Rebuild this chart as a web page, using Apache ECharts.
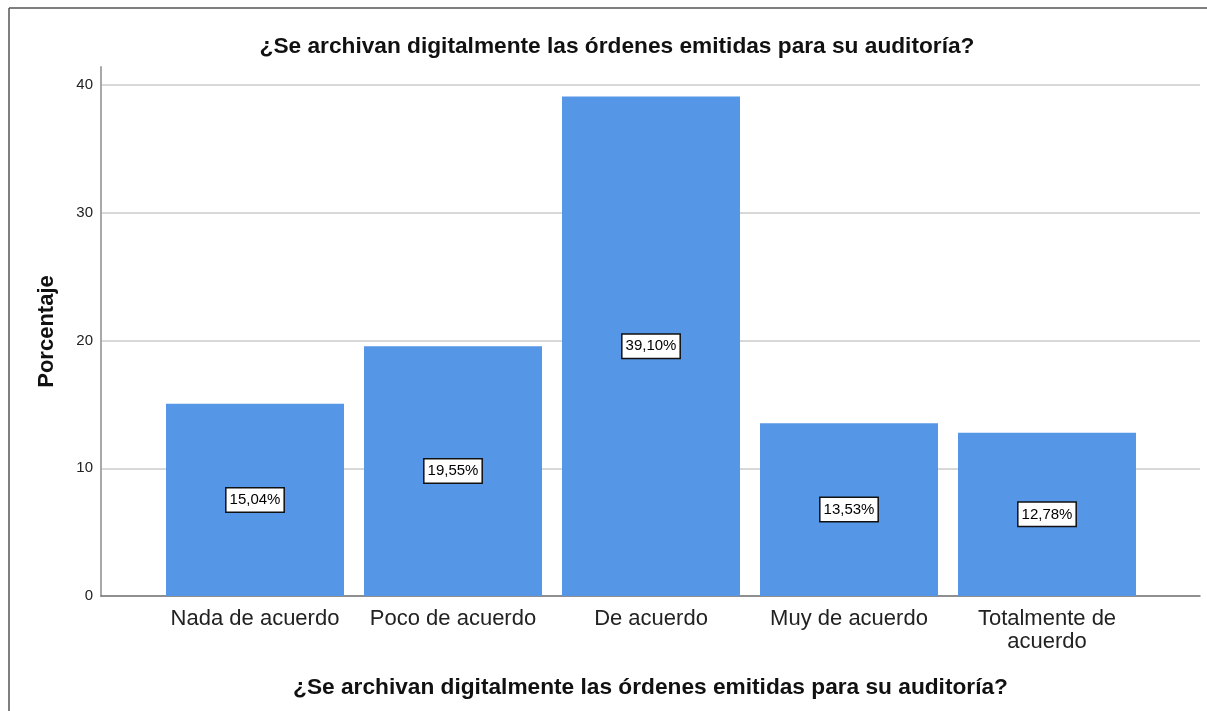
<!DOCTYPE html>
<html>
<head>
<meta charset="utf-8">
<script src="https://cdn.jsdelivr.net/npm/echarts@6/dist/echarts.min.js"></script>
<style>
  html, body { margin: 0; padding: 0; background: #fff; }
  #chart { width: 1207px; height: 711px; }
</style>
</head>
<body>
<div id="chart"></div>
<script>
// datos del gráfico
var categorias = ["Nada de acuerdo", "Poco de acuerdo", "De acuerdo", "Muy de acuerdo", "Totalmente de\nacuerdo"];
var porcentajes = [15.04, 19.55, 39.10, 13.53, 12.78];
var titulo = "¿Se archivan digitalmente las órdenes emitidas para su auditoría?";
var yMax = 40;
var yPaso = 10;

var fuente = "Liberation Sans, Arial, sans-serif";

var chart = echarts.init(document.getElementById("chart"), null, { renderer: "canvas" });

option = {
  backgroundColor: "#fff",
  animation: false,
  title: {
    text: titulo,
    left: 612,
    top: 30,
    textAlign: "center",
    textStyle: { fontFamily: fuente, fontSize: 22.7, fontWeight: "bold", color: "#111" }
  },
  graphic: [
    // marco exterior
    { type: "line", shape: { x1: 9, y1: 8, x2: 1207, y2: 8 }, style: { stroke: "#555", lineWidth: 1.5 } },
    { type: "line", shape: { x1: 9, y1: 8, x2: 9, y2: 711 }, style: { stroke: "#555", lineWidth: 1.5 } }
  ],
  grid: [
    // rejilla y eje Y con etiquetas
    { left: 101, right: 7, top: 85, bottom: 115 },
    // línea del eje Y (más alta)
    { left: 101, width: 1, top: 67, bottom: 115 },
    // barras
    { left: 156, width: 990, top: 85, bottom: 115 }
  ],
  xAxis: [
    {
      gridIndex: 0,
      type: "value",
      min: 0,
      max: 1,
      name: titulo,
      nameLocation: "middle",
      nameGap: 80,
      nameTextStyle: { fontFamily: fuente, fontSize: 22.7, fontWeight: "bold", color: "#111" },
      axisLine: { show: true, onZero: false, lineStyle: { color: "#777", width: 1.5 } },
      axisTick: { show: false },
      axisLabel: { show: false },
      splitLine: { show: false }
    },
    { gridIndex: 1, type: "value", show: false },
    {
      gridIndex: 2,
      type: "category",
      data: categorias,
      axisLine: { show: false },
      axisTick: { show: false },
      axisLabel: {
        interval: 0,
        margin: 11,
        fontFamily: fuente,
        fontSize: 22,
        lineHeight: 23,
        color: "#222"
      }
    }
  ],
  yAxis: [
    {
      gridIndex: 0,
      type: "value",
      min: 0,
      max: yMax,
      interval: yPaso,
      axisLine: { show: false },
      axisTick: { show: false },
      axisLabel: { margin: 8, fontFamily: fuente, fontSize: 15, color: "#222" },
      splitLine: { show: true, lineStyle: { color: "#d8d8d8", width: 2 } }
    },
    {
      gridIndex: 1,
      type: "value",
      min: 0,
      max: 1,
      name: "Porcentaje",
      nameLocation: "middle",
      nameGap: 43,
      nameTextStyle: { fontFamily: fuente, fontSize: 22, fontWeight: "bold", color: "#111" },
      axisLine: { show: true, lineStyle: { color: "#a8a8a8", width: 2 } },
      axisTick: { show: false },
      axisLabel: { show: false },
      splitLine: { show: false }
    },
    { gridIndex: 2, type: "value", min: 0, max: yMax, show: false }
  ],
  series: [
    {
      type: "bar",
      xAxisIndex: 2,
      yAxisIndex: 2,
      data: porcentajes,
      barWidth: 178,
      itemStyle: { color: "#5596e6" },
      label: {
        show: true,
        position: "inside",
        formatter: function (p) {
          return p.value.toFixed(2).replace(".", ",") + "%";
        },
        fontFamily: fuente,
        fontSize: 15,
        color: "#000",
        backgroundColor: "#fff",
        borderColor: "#111",
        borderWidth: 1.5,
        padding: [5, 3, 3, 3]
      }
    }
  ]
};

chart.setOption(option);
</script>
</body>
</html>
